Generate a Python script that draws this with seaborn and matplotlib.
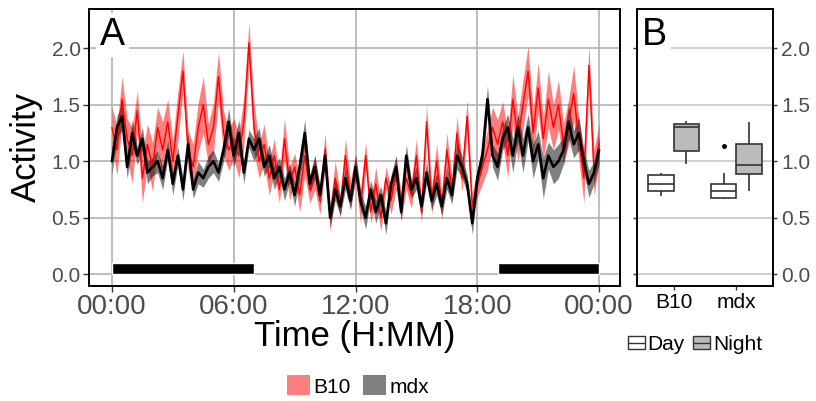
import numpy as np
import pandas as pd
import matplotlib
matplotlib.use("Agg")
import matplotlib.pyplot as plt
import seaborn as sns
from matplotlib.patches import Patch
from matplotlib.lines import Line2D
from matplotlib.legend_handler import HandlerTuple

# Panel A: mean activity in 15 min bins (00:00 .. 24:00) and SEM, per strain
b10_mean = [
    1.30, 1.10, 1.55, 1.20, 1.05, 1.45, 0.85, 1.15,
    0.95, 1.30, 1.10, 1.35, 1.00, 1.40, 1.80, 1.10,
    0.95, 1.30, 1.50, 1.15, 1.30, 1.75, 1.25, 1.10,
    1.20, 1.05, 1.35, 2.05, 1.30, 1.00, 1.15, 0.85,
    1.05, 0.75, 1.20, 0.80, 0.95, 0.70, 1.05, 0.75,
    0.90, 0.65, 1.10, 0.50, 0.85, 0.60, 1.05, 0.70,
    0.95, 0.60, 1.05, 0.55, 0.80, 0.50, 0.85, 0.65,
    0.90, 0.60, 0.85, 0.70, 1.05, 0.55, 1.35, 0.65,
    1.00, 0.60, 1.10, 0.75, 1.25, 0.85, 1.40, 0.60,
    0.80, 0.95, 1.10, 1.30, 1.15, 1.35, 1.05, 1.55,
    1.20, 1.50, 1.80, 1.25, 1.65, 1.20, 1.55, 1.30,
    1.50, 1.15, 1.35, 1.60, 1.20, 0.85, 1.85, 0.90,
    1.15]
b10_sem = [
    0.18, 0.22, 0.20, 0.18, 0.25, 0.18, 0.22, 0.18,
    0.22, 0.18, 0.25, 0.20, 0.18, 0.22, 0.18, 0.18,
    0.20, 0.22, 0.25, 0.18, 0.22, 0.22, 0.20, 0.18,
    0.18, 0.20, 0.22, 0.18, 0.22, 0.15, 0.18, 0.15,
    0.15, 0.12, 0.18, 0.15, 0.12, 0.15, 0.18, 0.12,
    0.15, 0.12, 0.15, 0.12, 0.15, 0.10, 0.15, 0.12,
    0.12, 0.15, 0.12, 0.10, 0.15, 0.12, 0.10, 0.12,
    0.15, 0.12, 0.10, 0.12, 0.15, 0.10, 0.15, 0.12,
    0.15, 0.12, 0.15, 0.10, 0.15, 0.12, 0.15, 0.12,
    0.12, 0.15, 0.18, 0.18, 0.22, 0.18, 0.20, 0.22,
    0.20, 0.22, 0.22, 0.20, 0.22, 0.18, 0.25, 0.20,
    0.22, 0.18, 0.20, 0.25, 0.18, 0.22, 0.18, 0.20,
    0.18]
mdx_mean = [
    1.00, 1.30, 1.40, 0.95, 1.25, 1.05, 1.20, 0.90,
    0.95, 1.00, 0.85, 1.10, 0.80, 1.05, 0.75, 1.15,
    0.75, 0.90, 0.85, 0.95, 1.00, 0.90, 1.10, 1.35,
    1.05, 1.25, 0.90, 1.20, 1.10, 1.20, 0.95, 1.05,
    0.85, 0.95, 0.75, 0.90, 0.70, 0.95, 1.25, 0.80,
    0.95, 0.70, 1.05, 0.50, 0.75, 0.60, 0.85, 0.65,
    0.95, 0.65, 0.50, 0.75, 0.55, 0.70, 0.45, 0.80,
    0.95, 0.55, 1.05, 0.75, 0.85, 0.60, 0.90, 0.65,
    0.80, 0.60, 0.85, 0.70, 1.05, 0.95, 0.80, 0.45,
    0.85, 1.05, 1.55, 1.05, 0.95, 1.20, 1.30, 1.05,
    1.30, 1.05, 1.30, 1.00, 1.15, 0.85, 1.05, 0.95,
    1.00, 1.10, 1.35, 1.15, 1.25, 1.00, 0.80, 0.90,
    1.10]
mdx_sem = [
    0.12, 0.10, 0.12, 0.10, 0.12, 0.08, 0.10, 0.10,
    0.08, 0.10, 0.10, 0.08, 0.10, 0.08, 0.10, 0.10,
    0.08, 0.10, 0.08, 0.10, 0.10, 0.08, 0.10, 0.12,
    0.10, 0.12, 0.10, 0.08, 0.10, 0.10, 0.08, 0.10,
    0.10, 0.08, 0.10, 0.08, 0.10, 0.10, 0.12, 0.08,
    0.10, 0.08, 0.10, 0.08, 0.10, 0.08, 0.10, 0.08,
    0.10, 0.08, 0.10, 0.08, 0.10, 0.08, 0.10, 0.08,
    0.10, 0.08, 0.10, 0.08, 0.10, 0.08, 0.10, 0.08,
    0.10, 0.08, 0.10, 0.08, 0.12, 0.10, 0.08, 0.10,
    0.08, 0.10, 0.12, 0.10, 0.12, 0.10, 0.12, 0.15,
    0.12, 0.15, 0.12, 0.15, 0.12, 0.18, 0.12, 0.15,
    0.15, 0.12, 0.15, 0.12, 0.15, 0.10, 0.12, 0.10,
    0.12]
hours = np.arange(len(b10_mean)) * 0.25

# dark phase bars (hours)
dark_start = [0, 19]
dark_end = [7, 24]

time_ticks = [0, 6, 12, 18, 24]
time_labels = ["00:00", "06:00", "12:00", "18:00", "00:00"]

# Panel B: per-animal activity, day vs night
b10_day = [0.69, 0.74, 0.80, 0.875, 0.895]
b10_night = [0.98, 1.09, 1.30, 1.33, 1.36]
mdx_day = [0.665, 0.668, 0.67, 0.70, 0.735, 0.77, 0.80, 0.895, 1.135]
mdx_night = [0.74, 0.89, 0.965, 1.155, 1.35]

rows = []
for strain, period, vals in [("B10", "Day", b10_day), ("B10", "Night", b10_night),
                             ("mdx", "Day", mdx_day), ("mdx", "Night", mdx_night)]:
    for v in vals:
        rows.append({"strain": strain, "period": period, "activity": v})
box_df = pd.DataFrame(rows)

sns.set_style("white")
plt.rcParams["font.family"] = ["Liberation Sans", "DejaVu Sans"]
plt.rcParams["text.color"] = "black"
plt.rcParams["axes.labelcolor"] = "black"

grid_col = "#B3B3B3"
tick_col = "#4D4D4D"
ylim = (-0.106, 2.35)

fig = plt.figure(figsize=(8.16, 4.01), dpi=100)
axA = fig.add_axes([89 / 816, 1 - 286 / 401, 531 / 816, 277 / 401])
axB = fig.add_axes([637 / 816, 1 - 286 / 401, 136 / 816, 277 / 401])

# --- panel A
axA.fill_between(hours, np.array(b10_mean) - b10_sem, np.array(b10_mean) + b10_sem,
                 color="red", alpha=0.5, lw=0, zorder=2)
axA.fill_between(hours, np.array(mdx_mean) - mdx_sem, np.array(mdx_mean) + mdx_sem,
                 color="black", alpha=0.5, lw=0, zorder=2)
sns.lineplot(x=hours, y=b10_mean, color="red", linewidth=1.0, ax=axA, zorder=3)
sns.lineplot(x=hours, y=mdx_mean, color="black", linewidth=1.9, ax=axA, zorder=4)
axA.broken_barh([(s, e - s) for s, e in zip(dark_start, dark_end)], (0, 0.1),
                facecolors="black", zorder=3)

axA.set_xlim(-1.13, 25.03)
axA.set_ylim(*ylim)
axA.set_xticks(time_ticks)
axA.set_xticklabels(time_labels)
axA.set_yticks([0, 0.5, 1.0, 1.5, 2.0])
axA.set_yticklabels(["0.0", "0.5", "1.0", "1.5", "2.0"])
axA.grid(True, color=grid_col, lw=1.2, zorder=0)
axA.set_axisbelow(True)
axA.tick_params(axis="x", labelsize=20, colors="#333333", labelcolor=tick_col,
                length=4, width=1, pad=2, bottom=True)
axA.tick_params(axis="y", labelsize=15, colors="#333333", labelcolor=tick_col,
                length=4, width=1, pad=2, left=True)
axA.set_xlabel("Time (H:MM)", fontsize=25, labelpad=0, color="black")
axA.set_ylabel("Activity", fontsize=25, labelpad=6, color="black")
for sp in axA.spines.values():
    sp.set_color("black")
    sp.set_linewidth(1.4)
axA.text(-0.6, 2.12, "A", fontsize=27, ha="left", va="center", zorder=6, color="black",
         bbox=dict(fc="white", ec="none", pad=3))

# --- panel B
sns.boxplot(data=box_df, x="strain", y="activity", hue="period",
            palette={"Day": "white", "Night": "#BBBBBB"}, saturation=1,
            linecolor="#333333", linewidth=1.2, width=0.8, gap=0,
            showcaps=False, legend=False, ax=axB,
            flierprops=dict(marker="o", markersize=2.5, markerfacecolor="black",
                            markeredgecolor="black"))
axB.set_xlim(-0.58, 1.58)
axB.set_ylim(*ylim)
axB.set_yticks([0, 0.5, 1.0, 1.5, 2.0])
axB.set_yticklabels(["0.0", "0.5", "1.0", "1.5", "2.0"])
axB.yaxis.grid(True, color="#C8C8C8", lw=1.2, zorder=0)
axB.set_axisbelow(True)
axB.yaxis.tick_right()
axB.tick_params(axis="y", left=True, right=True, labelleft=False, labelright=True,
                labelsize=15, colors="#333333", labelcolor=tick_col, length=3, width=1, pad=3)
axB.tick_params(axis="x", bottom=True, labelsize=15, colors="#333333", labelcolor="black",
                length=3, width=1, pad=2)
axB.set_xlabel("")
axB.set_ylabel("")
for sp in axB.spines.values():
    sp.set_color("black")
    sp.set_linewidth(1.4)
axB.text(-0.5, 2.12, "B", fontsize=27, ha="left", va="center", zorder=6, color="black",
         bbox=dict(fc="white", ec="none", pad=3))

# --- legends
strain_handles = [Patch(facecolor="#FF7F7F", edgecolor="none"),
                  Patch(facecolor="#7F7F7F", edgecolor="none")]
fig.legend(strain_handles, ["B10", "mdx"], loc="center", bbox_to_anchor=(358 / 816, 1 - 386 / 401),
           ncol=2, frameon=False, fontsize=15, handlelength=1.1, handleheight=1.1,
           handletextpad=0.15, columnspacing=0.6, borderpad=0, labelcolor="black")

period_handles = [(Patch(facecolor="white", edgecolor="#333333", lw=1),
                   Line2D([], [], color="#333333", lw=1)),
                  (Patch(facecolor="#BBBBBB", edgecolor="#333333", lw=1),
                   Line2D([], [], color="#333333", lw=1))]
fig.legend(period_handles, ["Day", "Night"], loc="center", bbox_to_anchor=(695 / 816, 1 - 344 / 401),
           ncol=2, frameon=False, fontsize=15, handlelength=0.8, handleheight=0.6,
           handletextpad=0.15, columnspacing=0.4, borderpad=0, labelcolor="black",
           handler_map={tuple: HandlerTuple(ndivide=1)})

fig.savefig("out.png", dpi=100)
